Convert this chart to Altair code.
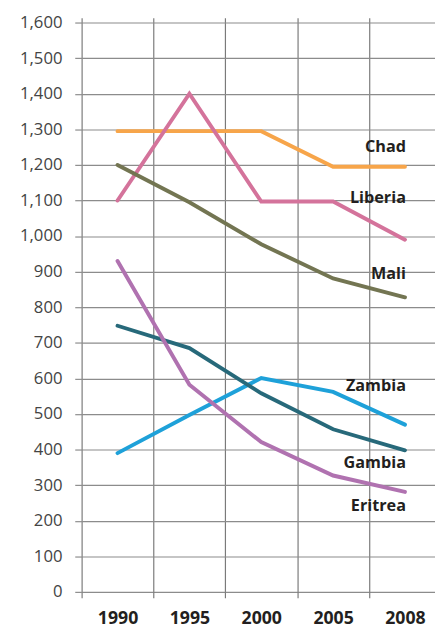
import altair as alt
import pandas as pd

years = ["1990", "1995", "2000", "2005", "2008"]
countries = ["Chad", "Liberia", "Mali", "Zambia", "Gambia", "Eritrea"]
chad = [1295, 1295, 1295, 1195, 1195]
liberia = [1100, 1400, 1097, 1097, 990]
mali = [1200, 1095, 977, 881, 828]
zambia = [390, 497, 601, 562, 470]
gambia = [748, 685, 558, 457, 398]
eritrea = [930, 582, 421, 327, 281]
colors = ["#f7a54a", "#d4739b", "#737552", "#1ea1d9", "#27697a", "#b072b0"]
label_y = [1250, 1106, 893, 578, 361, 240]
y_ticks = list(range(0, 1700, 100))

series = [chad, liberia, mali, zambia, gambia, eritrea]
rows = []
for c, vals in zip(countries, series):
    for yr, v in zip(years, vals):
        rows.append({"country": c, "year": yr, "value": v})
df = pd.DataFrame(rows)
lab = pd.DataFrame({"country": countries, "year": ["2008"] * len(countries), "value": label_y})

x_enc = alt.X(
    "year:O",
    sort=years,
    scale=alt.Scale(range=[0, 366], paddingInner=0, paddingOuter=0),
    axis=alt.Axis(
        title=None, domain=False, grid=True, tickBand="extent",
        gridColor="#7a7a7a", gridWidth=1.2, tickColor="#7a7a7a", tickWidth=1.2, tickSize=6,
        labelAngle=0, labelFont="Open Sans", labelFontSize=18, labelFontWeight="bold",
        labelColor="#231f20", labelPadding=12,
    ),
)
y_enc = alt.Y(
    "value:Q",
    scale=alt.Scale(domain=[0, 1614], nice=False, zero=True),
    axis=alt.Axis(
        title=None, domain=False, grid=True, values=y_ticks, format=",.0f",
        labelOverlap=False,
        gridColor="#8c8c8c", gridWidth=1.2, tickColor="#8c8c8c", tickWidth=1.2, tickSize=7,
        labelFont="Open Sans", labelFontSize=17, labelColor="#444444", labelPadding=13,
    ),
)
color_enc = alt.Color(
    "country:N", scale=alt.Scale(domain=countries, range=colors), legend=None
)

lines = alt.Chart(df).mark_line(strokeWidth=4, strokeCap="round").encode(
    x=x_enc, y=y_enc, color=color_enc, detail="country:N"
)
labels = alt.Chart(lab).mark_text(
    align="right", baseline="middle", dx=1, font="Open Sans", fontSize=16.5,
    fontWeight="bold", color="#231f20"
).encode(
    x=x_enc, y=y_enc, text="country:N"
)

chart = (
    alt.layer(lines, labels)
    .properties(
        width=360, height=585,
        autosize=alt.AutoSizeParams(type="none"),
        padding={"left": 75, "top": 4, "right": 0, "bottom": 32},
    )
    .configure_view(stroke=None)
)
chart.save("out.html", embed_options={"renderer": "svg", "actions": False})
